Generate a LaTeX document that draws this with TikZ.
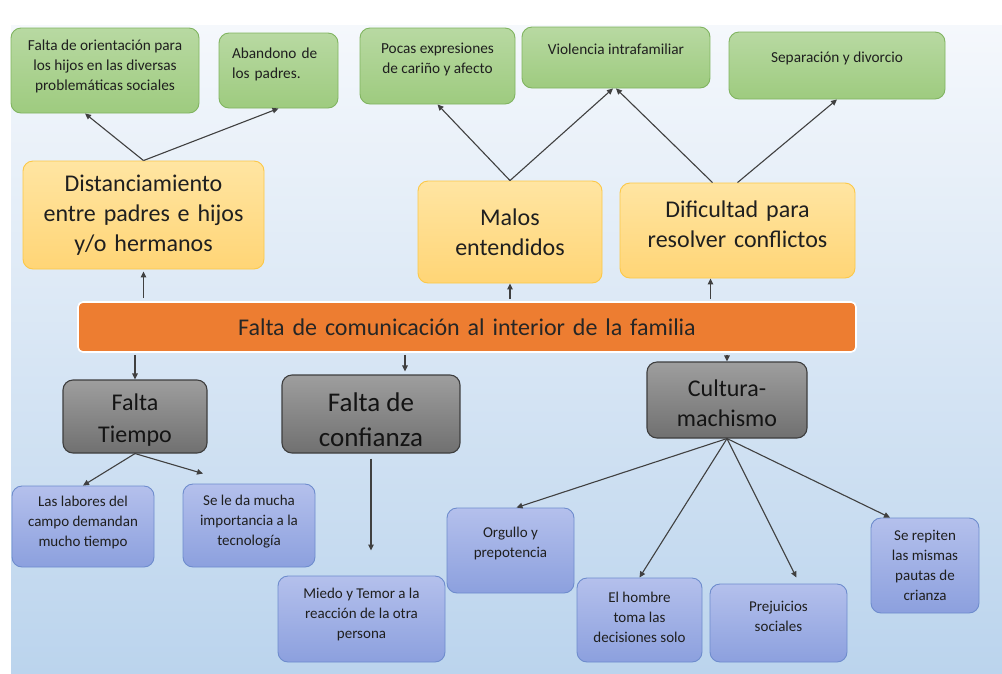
\documentclass[tikz,border=0pt]{standalone}
\usepackage{fontspec}
\setmainfont{Carlito}
\newfontfamily\letraancha[WordSpace=1.45]{Carlito}
\usetikzlibrary{
  	positioning,
  	arrows.meta,
  	calc
  }
\definecolor{fondoA}{RGB}{245,248,252}
\definecolor{fondoB}{RGB}{187,212,237}
\definecolor{verdeA}{RGB}{184,217,162}
\definecolor{verdeC}{RGB}{158,203,127}
\definecolor{verdeB}{RGB}{128,180,96}
\definecolor{amaA}{RGB}{255,229,162}
\definecolor{amaC}{RGB}{255,213,118}
\definecolor{amaB}{RGB}{252,200,72}
\definecolor{naranja}{RGB}{237,125,49}
\definecolor{grisA}{RGB}{158,158,158}
\definecolor{grisC}{RGB}{112,112,112}
\definecolor{grisB}{RGB}{62,62,62}
\definecolor{azulA}{RGB}{180,192,236}
\definecolor{azulC}{RGB}{140,160,222}
\definecolor{azulB}{RGB}{110,140,205}

\begin{document}
\begin{tikzpicture}[x=1pt, y=-1pt,
  caja/.style={rounded corners=10pt, align=center, inner sep=2pt, line width=.9pt, text=black!88},
  subir/.style={execute at end node={\rule[-#1]{0pt}{0pt}}},
  bajar/.style={execute at begin node={\rule{0pt}{#1}}},
  verde/.style={caja, draw=verdeB, top color=verdeA, bottom color=verdeC, font=\fontsize{15.3}{20}\selectfont},
  amarilla/.style={caja, draw=amaB, top color=amaA, bottom color=amaC, font=\letraancha\fontsize{24}{30}\selectfont},
  naranja/.style={caja, rounded corners=5pt, draw=white, line width=1.6pt, fill=naranja, text=black!85, font=\letraancha\fontsize{24}{28}\selectfont},
  gris/.style={caja, draw=grisB, line width=1.1pt, top color=grisA, bottom color=grisC, text=black!92},
  azul/.style={caja, draw=azulB, top color=azulA, bottom color=azulC, font=\fontsize{15}{20}\selectfont},
  flecha/.style={-{Triangle[length=6pt,width=5.5pt]}, draw=black!75, line width=1.1pt}]
	\useasboundingbox (0,0) rectangle (1002,673);
	\fill[top color=fondoA, bottom color=fondoB] (11,25) rectangle (1002,673);
%
	\node[verde, subir=10.5pt, minimum width=188pt, minimum height=85pt] (orienta) at (105,70.5) {Falta de orientación para\\los hijos en las diversas\\problemáticas sociales};
	\node[verde, subir=14.5pt, align=left, text width=93pt, minimum width=119pt, minimum height=75pt] (abandono) at (278.5,70.5) {Abandono de\\los padres.};
	\node[verde, subir=15.5pt, minimum width=155pt, minimum height=76pt] (pocas) at (437.5,66) {Pocas expresiones\\de cariño y afecto};
	\node[verde, subir=17pt, minimum width=188pt, minimum height=61pt] (violencia) at (616,57.5) {Violencia intrafamiliar};
	\node[verde, subir=16.5pt, minimum width=216pt, minimum height=67pt] (separa) at (837,65.5) {Separación y divorcio};
%
	\node[amarilla, minimum width=241pt, minimum height=108pt] (distancia) at (143.5,215) {Distanciamiento\\entre padres e hijos\\y/o hermanos};
	\node[amarilla, minimum width=184pt, minimum height=102pt] (malos) at (510,232) {Malos\\entendidos};
	\node[amarilla, subir=13pt, minimum width=235pt, minimum height=95pt] (dificultad) at (737.5,230.5) {Dificultad para\\resolver conflictos};
%
	\node[naranja, minimum width=778pt, minimum height=50pt] (falta) at (467,327) {Falta de comunicación al interior de la familia};
%
	\node[gris, bajar=55pt, font=\fontsize{24}{32}\selectfont, minimum width=144pt, minimum height=73pt] (tiempo) at (135,416.5) {Falta\\Tiempo};
	\node[gris, bajar=66pt, font=\fontsize{27}{35}\selectfont, minimum width=178pt, minimum height=78pt] (confianza) at (371,414) {Falta de\\confianza};
	\node[gris, bajar=54pt, font=\fontsize{24}{30}\selectfont, minimum width=160pt, minimum height=76pt] (cultura) at (727,400) {Cultura-\\machismo};
%
	\node[azul, subir=10.5pt, minimum width=142pt, minimum height=81pt] (labores) at (83,526.5) {Las labores del\\campo demandan\\mucho tiempo};
	\node[azul, subir=10.5pt, minimum width=132pt, minimum height=83pt] (tecno) at (249,525.5) {Se le da mucha\\importancia a la\\tecnología};
	\node[azul, subir=11.5pt, minimum width=167pt, minimum height=86pt] (miedo) at (361.5,619) {Miedo y Temor a la\\reacción de la otra\\persona};
	\node[azul, subir=16.5pt, minimum width=127pt, minimum height=85pt] (orgullo) at (510.5,550.5) {Orgullo y\\prepotencia};
	\node[azul, subir=6pt, minimum width=125pt, minimum height=84pt] (hombre) at (639.5,620) {El hombre\\toma las\\decisiones solo};
	\node[azul, subir=14pt, minimum width=137pt, minimum height=78pt] (prejuicios) at (778.5,623) {Prejuicios\\sociales};
	\node[azul, minimum width=108pt, minimum height=95pt] (pautas) at (925,565.5) {Se repiten\\las mismas\\pautas de\\crianza};
%
	\draw[flecha] (distancia.north) -- ([xshift=-20pt]orienta.south);
	\draw[flecha] (distancia.north) -- (abandono.south);
	\draw[flecha] (malos.north) -- (pocas.south);
	\draw[flecha] (malos.north) -- ([xshift=-3pt]violencia.south);
	\draw[flecha] ([xshift=-25pt]dificultad.north) -- (violencia.south);
	\draw[flecha] (dificultad.north) -- (separa.south);
%
	\draw[flecha, shorten <=3pt, shorten >=2pt] (distancia.south |- falta.north) -- (distancia.south);
	\draw[flecha, shorten <=2pt] (malos.south |- falta.north) -- (malos.south);
	\draw[flecha, shorten <=2pt] ($(dificultad.south |- falta.north)+(-27,0)$) -- ($(dificultad.south)+(-27,0)$);
	\draw[flecha, shorten <=2pt] (tiempo.north |- falta.south) -- (tiempo.north);
	\draw[flecha, shorten <=2pt] ($(confianza.north |- falta.south)+(34,0)$) -- ($(confianza.north)+(34,-3)$);
	\draw[flecha, shorten <=2pt] (cultura.north |- falta.south) -- (cultura.north);
%
	\draw[flecha] (tiempo.south) -- (labores.north);
	\draw[flecha] (tiempo.south) -- ($(tecno.north)+(-46,-10)$);
	\draw[flecha, shorten <=5pt] (confianza.south) -- ($(confianza.south |- miedo.north)+(0,-25)$);
	\draw[flecha] (cultura.south) -- ($(orgullo.north)+(6,0)$);
	\draw[flecha] (cultura.south) -- (hombre.north);
	\draw[flecha] (cultura.south) -- ($(prejuicios.north)+(18,-6)$);
	\draw[flecha] (cultura.south) -- ($(pautas.north)+(-35,0)$);
\end{tikzpicture}
\end{document}
